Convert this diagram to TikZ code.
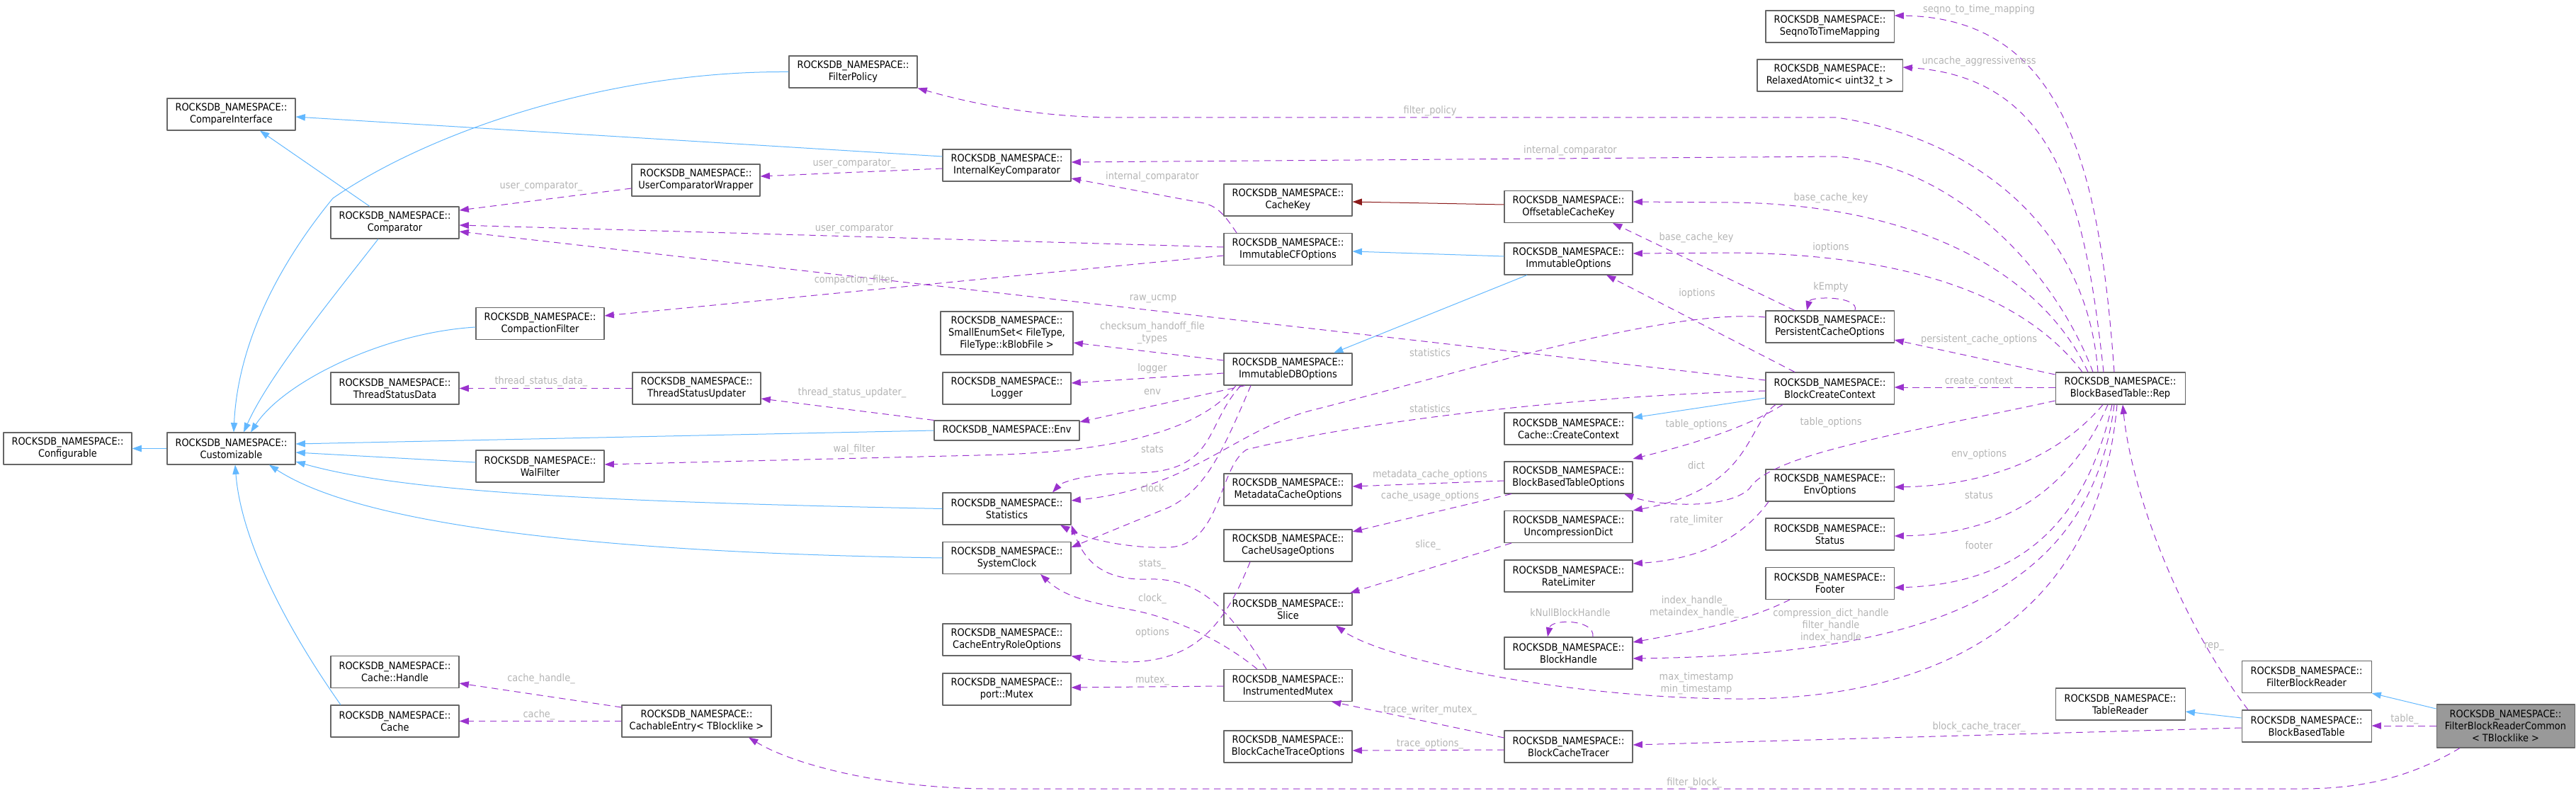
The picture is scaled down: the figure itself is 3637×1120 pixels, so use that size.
\documentclass[tikz,border=0pt]{standalone}
\usepackage{fontspec}
\setmainfont{DejaVu Sans Condensed}
\usetikzlibrary{arrows.meta}
\definecolor{boxline}{HTML}{666666}
\definecolor{inhblue}{HTML}{63B8FF}
\definecolor{usepurple}{HTML}{9A32CD}
\definecolor{protred}{HTML}{8B1A1A}
\definecolor{lblgrey}{HTML}{B4B4B4}
\definecolor{curfill}{HTML}{999999}
\newcommand{\rns}{ROCKSDB\_NAMESPACE::}
\tikzset{
	cls/.style={draw=boxline, fill=white, line width=0.8pt, align=center, inner sep=0pt, minimum width=135.75pt, minimum height=33.75pt},
	inh/.style={draw=inhblue, line width=0.75pt, -{Triangle[length=10pt,width=7pt]}},
	prot/.style={draw=protred, line width=0.75pt, -{Triangle[length=10pt,width=7pt]}},
	usage/.style={draw=usepurple, line width=0.75pt, dash pattern=on 7pt off 5pt, -{Triangle[length=10pt,width=7pt]}},
	lbl/.style={text=lblgrey, align=center, inner sep=0pt}
}
\begin{document}
\begin{tikzpicture}[x=0.75pt, y=-0.75pt, font=\fontsize{10.8}{12.6}\selectfont, line join=round]
	\useasboundingbox (0,0) rectangle (3637,1120);
	% classes
	\node[cls] (conf) at (95.5,633.5) {\rns\\Configurable};
	\node[cls] (cust) at (326.5,633.5) {\rns\\Customizable};
	\node[cls] (cmpi) at (326.5,161.5) {\rns\\CompareInterface};
	\node[cls] (cmp) at (557.5,314.5) {\rns\\Comparator};
	\node[cls] (tsd) at (557.5,548.5) {\rns\\ThreadStatusData};
	\node[cls] (chnd) at (557.5,949) {\rns\\Cache::Handle};
	\node[cls] (cache) at (557.5,1018.5) {\rns\\Cache};
	\node[cls] (ucw) at (982.5,254.5) {\rns\\UserComparatorWrapper};
	\node[cls] (cfilt) at (762.5,457) {\rns\\CompactionFilter};
	\node[cls] (tsu) at (983.5,548.5) {\rns\\ThreadStatusUpdater};
	\node[cls] (walf) at (762.5,658.5) {\rns\\WalFilter};
	\node[cls, minimum width=158.25pt] (centry) at (983.5,1018.5) {\rns\\CachableEntry< TBlocklike >};
	\node[cls] (fpol) at (1204.5,101.5) {\rns\\FilterPolicy};
	\node[cls] (ikc) at (1421.5,233.5) {\rns\\InternalKeyComparator};
	\node[cls, minimum width=140.25pt, minimum height=45.75pt] (ses) at (1421.5,470.5) {\rns\\SmallEnumSet< FileType,\\FileType::kBlobFile >};
	\node[cls] (logger) at (1421.5,548.5) {\rns\\Logger};
	\node[cls, minimum width=153.75pt, minimum height=21pt] (env) at (1421.5,608) {\rns Env};
	\node[cls] (stats) at (1421.5,718.5) {\rns\\Statistics};
	\node[cls] (sclk) at (1421.5,788) {\rns\\SystemClock};
	\node[cls] (cero) at (1421.5,903.5) {\rns\\CacheEntryRoleOptions};
	\node[cls] (pmtx) at (1421.5,973.5) {\rns\\port::Mutex};
	\node[cls] (ckey) at (1818.5,282.5) {\rns\\CacheKey};
	\node[cls] (icfo) at (1818.5,352) {\rns\\ImmutableCFOptions};
	\node[cls] (idbo) at (1818.5,521.5) {\rns\\ImmutableDBOptions};
	\node[cls] (mco) at (1818.5,691.5) {\rns\\MetadataCacheOptions};
	\node[cls] (cuo) at (1818.5,770.5) {\rns\\CacheUsageOptions};
	\node[cls] (slice) at (1818.5,860.5) {\rns\\Slice};
	\node[cls] (imtx) at (1818.5,968) {\rns\\InstrumentedMutex};
	\node[cls] (bcto) at (1818.5,1054.5) {\rns\\BlockCacheTraceOptions};
	\node[cls] (ock) at (2214.5,292) {\rns\\OffsetableCacheKey};
	\node[cls] (iopt) at (2214.5,365.5) {\rns\\ImmutableOptions};
	\node[cls] (ccc) at (2214.5,605.5) {\rns\\Cache::CreateContext};
	\node[cls] (bbto) at (2214.5,674.5) {\rns\\BlockBasedTableOptions};
	\node[cls] (udict) at (2214.5,744) {\rns\\UncompressionDict};
	\node[cls] (rlim) at (2214.5,813.5) {\rns\\RateLimiter};
	\node[cls] (bhnd) at (2214.5,922.5) {\rns\\BlockHandle};
	\node[cls] (bct) at (2214.5,1054.5) {\rns\\BlockCacheTracer};
	\node[cls] (s2t) at (2583.5,37.5) {\rns\\SeqnoToTimeMapping};
	\node[cls, minimum width=153.75pt] (ratom) at (2583.5,106.5) {\rns\\RelaxedAtomic< uint32\_t >};
	\node[cls] (pco) at (2583.5,461.5) {\rns\\PersistentCacheOptions};
	\node[cls] (bcc) at (2583.5,548.5) {\rns\\BlockCreateContext};
	\node[cls] (envo) at (2583.5,685.5) {\rns\\EnvOptions};
	\node[cls] (status) at (2583.5,754.5) {\rns\\Status};
	\node[cls] (footer) at (2583.5,824) {\rns\\Footer};
	\node[cls, minimum width=137.25pt] (rep) at (2993.5,548.5) {\rns\\BlockBasedTable::Rep};
	\node[cls, minimum width=137.25pt] (trd) at (2993.5,994.5) {\rns\\TableReader};
	\node[cls, minimum width=137.25pt] (fbr) at (3256.5,956) {\rns\\FilterBlockReader};
	\node[cls, minimum width=137.25pt] (bbt) at (3256.5,1025.5) {\rns\\BlockBasedTable};
	\node[cls, fill=curfill, minimum width=146.25pt, minimum height=45.75pt] (fbrc) at (3537.5,1025.5) {\rns\\FilterBlockReaderCommon\\< TBlocklike >};
	% inheritance
	\draw[inh] (cust) -- (conf);
	\draw[inh] (cmp.north -| 522,0) -- (cmpi.south -| 367,0);
	\draw[inh] (ikc.west |- 0,221) -- (cmpi.east |- 0,165);
	\draw[inh] (fpol.west) .. controls (850,100) and (600,190) .. (470,280) .. controls (380,390) and (335,500) .. (cust.north -| 330,0);
	\draw[inh] (cmp.south -| 534,0) .. controls (470,420) and (380,530) .. (cust.north -| 344,0);
	\draw[inh] (cfilt.west |- 0,462) .. controls (540,470) and (400,540) .. (cust.north -| 354,0);
	\draw[inh] (env.west) -- (cust.east |- 0,627);
	\draw[inh] (walf.west |- 0,653) -- (cust.east |- 0,639);
	\draw[inh] (stats.west) .. controls (800,708) and (560,692) .. (cust.east |- 0,652);
	\draw[inh] (sclk.west) .. controls (800,780) and (500,735) .. (cust.south -| 380,0);
	\draw[inh] (cache.north -| 481,0) .. controls (400,880) and (340,760) .. (cust.south -| 332,0);
	\draw[inh] (iopt.west |- 0,362) -- (icfo.east |- 0,355);
	\draw[inh] (iopt.south -| 2156,0) -- (idbo.north -| 1883,0);
	\draw[inh] (bcc.west |- 0,562) -- (ccc.east |- 0,590);
	\draw[inh] (bbt.west |- 0,1014) -- (trd.east |- 0,1005);
	\draw[inh] (fbrc.west |- 0,1001) -- (fbr.south east);
	\draw[prot] (ock.west |- 0,289) -- (ckey.east |- 0,285);
	% usage
	\draw[usage] (ucw.west |- 0,266) -- (cmp.east |- 0,297);
	\draw[usage] (ikc.west |- 0,238) -- (ucw.east |- 0,249);
	\draw[usage] (icfo.west |- 0,349) -- (cmp.east |- 0,318);
	\draw[usage] (icfo.west |- 0,361) -- (cfilt.east |- 0,446);
	\draw[usage] (icfo.north -| 1746,0) .. controls (1730,305) and (1720,292) .. (1700,287) -- (ikc.east |- 0,252);
	\draw[usage] (bcc.west |- 0,537) -- (cmp.east |- 0,327);
	\draw[usage] (tsu) -- (tsd);
	\draw[usage] (env.north west) -- (tsu.east |- 0,563);
	\draw[usage] (idbo.west |- 0,509) -- (ses.east |- 0,484);
	\draw[usage] (idbo.west |- 0,527) -- (logger.east |- 0,541);
	\draw[usage] (idbo.south -| 1758,0) -- (env.east |- 0,596);
	\draw[usage] (idbo.south -| 1745,0) .. controls (1690,615) and (1550,640) .. (1380,643) -- (walf.east |- 0,656);
	\draw[usage] (idbo.south -| 1752,0) .. controls (1700,600) and (1720,668) .. (1600,668) .. controls (1540,668) and (1500,680) .. (stats.north -| 1486,0);
	\draw[usage] (idbo.south -| 1766,0) .. controls (1725,640) and (1700,700) .. (1637,722) -- (sclk.east |- 0,773);
	\draw[usage] (pco.west |- 0,448) .. controls (2350,435) and (2050,530) .. (1850,580) .. controls (1740,610) and (1680,690) .. (stats.east |- 0,707);
	\draw[usage] (bcc.west |- 0,552) .. controls (2200,560) and (1900,600) .. (1760,635) .. controls (1720,660) and (1725,770) .. (1650,773) .. controls (1590,775) and (1530,760) .. (stats.south -| 1497,0);
	\draw[usage] (imtx.north -| 1788,0) .. controls (1740,870) and (1700,815) .. (1620,818) .. controls (1555,820) and (1530,790) .. (stats.south east);
	\draw[usage] (imtx.north -| 1775,0) .. controls (1720,900) and (1650,870) .. (1590,860) .. controls (1530,850) and (1500,840) .. (sclk.south -| 1469,0);
	\draw[usage] (imtx.west |- 0,969) -- (pmtx.east |- 0,971);
	\draw[usage] (cuo.south -| 1765,0) .. controls (1730,880) and (1690,935) .. (1590,935) .. controls (1550,935) and (1530,930) .. (cero.south east);
	\draw[usage] (bbto.west |- 0,679) -- (mco.east |- 0,687);
	\draw[usage] (bbto.south -| 2134,0) -- (cuo.east |- 0,751);
	\draw[usage] (udict.south -| 2134,0) -- (slice.north -| 1906,0);
	\draw[usage] (envo.south -| 2497,0) .. controls (2460,760) and (2400,790) .. (rlim.east |- 0,796);
	\draw[usage] (bcc.south -| 2517,0) .. controls (2480,595) and (2420,620) .. (bbto.east |- 0,648);
	\draw[usage] (bcc.south -| 2507,0) .. controls (2465,600) and (2475,690) .. (udict.north east);
	\draw[usage] (rep.west |- 0,566) .. controls (2700,610) and (2500,640) .. (2470,690) .. controls (2440,720) and (2340,715) .. (bbto.south -| 2293,0);
	\draw[usage] (bcc.north -| 2534,0) -- (iopt.south -| 2268,0);
	\draw[usage] (pco.north -| 2534,0) -- (ock.south -| 2277,0);
	\draw[usage] (pco.north -| 2619,0) .. controls (2626,418) and (2556,418) .. (pco.north -| 2551,0);
	\draw[usage] (bhnd.north -| 2249,0) .. controls (2252,874) and (2190,874) .. (bhnd.north -| 2185,0);
	\draw[usage] (footer.south -| 2527,0) .. controls (2480,870) and (2430,885) .. (bhnd.east |- 0,907);
	\draw[usage] (rep.north -| 2985,0) .. controls (2965,250) and (2920,25) .. (s2t.east |- 0,22);
	\draw[usage] (rep.north -| 2970,0) .. controls (2945,300) and (2910,110) .. (ratom.east |- 0,95);
	\draw[usage] (rep.north -| 2962,0) .. controls (2945,300) and (2760,190) .. (2593,166) -- (1580,166) .. controls (1450,166) and (1350,140) .. (fpol.south east);
	\draw[usage] (rep.north -| 2955,0) .. controls (2900,380) and (2760,235) .. (2593,221) -- (ikc.east |- 0,229);
	\draw[usage] (rep.north -| 2948,0) .. controls (2880,380) and (2700,290) .. (2450,286) -- (ock.east |- 0,285);
	\draw[usage] (rep.north -| 2940,0) .. controls (2860,420) and (2700,360) .. (2450,357) -- (iopt.east |- 0,358);
	\draw[usage] (rep.west |- 0,529) -- (pco.east |- 0,480);
	\draw[usage] (rep.west |- 0,547) -- (bcc.east |- 0,547);
	\draw[usage] (rep.south -| 2969,0) .. controls (2920,630) and (2830,685) .. (envo.east |- 0,688);
	\draw[usage] (rep.south -| 2976,0) .. controls (2920,700) and (2820,755) .. (status.east |- 0,757);
	\draw[usage] (rep.south -| 2982,0) .. controls (2940,760) and (2830,825) .. (footer.east |- 0,830);
	\draw[usage] (rep.south -| 2985,0) .. controls (2950,850) and (2700,925) .. (bhnd.east |- 0,930);
	\draw[usage] (rep.south -| 2989,0) .. controls (2960,900) and (2700,990) .. (2446,987) .. controls (2200,985) and (1950,930) .. (slice.south -| 1886,0);
	\draw[usage] (bbt.north -| 3174,0) .. controls (3080,880) and (3010,700) .. (rep.south -| 2997,0);
	\draw[usage] (bbt.west |- 0,1028) -- (bct.east |- 0,1052);
	\draw[usage] (fbrc.west |- 0,1025) -- (bbt.east |- 0,1025);
	\draw[usage] (fbrc.south -| 3473,0) .. controls (3400,1100) and (3330,1114) .. (3250,1114) -- (1400,1114) .. controls (1250,1114) and (1120,1080) .. (centry.south -| 1057,0);
	\draw[usage] (bct.west |- 0,1042) -- (imtx.south -| 1880,0);
	\draw[usage] (bct.west |- 0,1059) -- (bcto.east |- 0,1060);
	\draw[usage] (centry.west |- 0,999) -- (chnd.east |- 0,965);
	\draw[usage] (centry) -- (cache);
	% edge labels
	\foreach \x/\y/\t [count=\i] in {
		764/263/user\_comparator\_, 1206/231/user\_comparator\_, 1206/323/user\_comparator,
		1206/396/compaction\_filter, 1627/250/internal\_comparator, 1628/422/raw\_ucmp,
		764/539/thread\_status\_data\_, 1203/555/thread\_status\_updater\_,
		1627/470/{checksum\_handoff\_file\\\_types}, 1627/521/logger, 1627/554/env,
		1206/635/wal\_filter, 1627/635/stats, 1627/689/clock, 2019/498/statistics,
		2019/577/statistics, 1627/797/stats\_, 1627/846/clock\_, 1627/961/mutex\_,
		1627/894/options, 2019/671/metadata\_cache\_options, 2019/701/cache\_usage\_options,
		2016/770/slice\_, 2395/735/rate\_limiter, 2395/600/table\_options, 2395/657/dict,
		2585/597/table\_options, 2396/415/ioptions, 2395/336/base\_cache\_key,
		2585/406/kEmpty, 2217/865/kNullBlockHandle,
		2392/857/{index\_handle\_\\metaindex\_handle\_},
		2794/14/seqno\_to\_time\_mapping, 2794/87/uncache\_aggressiveness,
		2019/157/filter\_policy, 2217/213/internal\_comparator, 2585/280/base\_cache\_key,
		2585/350/ioptions, 2794/480/persistent\_cache\_options, 2794/539/create\_context,
		2794/642/env\_options, 2794/700/status, 2794/770/footer,
		2585/884/{compression\_dict\_handle\\filter\_handle\\index\_handle},
		2395/965/{max\_timestamp\\min\_timestamp}, 3126/913/rep\_,
		2794/1027/block\_cache\_tracer\_, 3395/1016/table\_, 2392/1106/filter\_block\_,
		2019/1003/trace\_writer\_mutex\_, 2019/1051/trace\_options\_,
		764/959/cache\_handle\_, 761/1010/cache\_}
		\node[lbl] (lab\i) at (\x,\y) {\t};
\end{tikzpicture}
\end{document}
